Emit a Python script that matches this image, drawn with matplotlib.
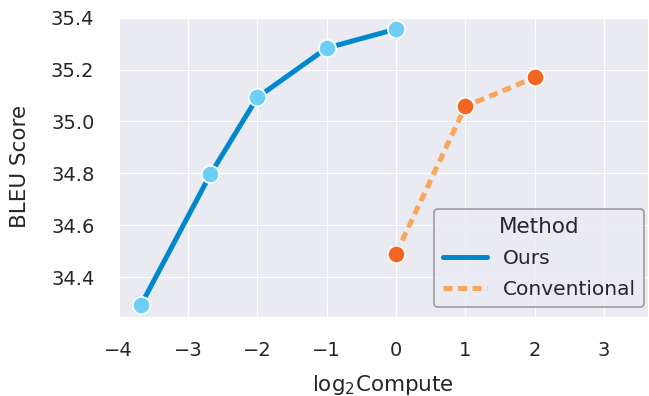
import matplotlib
matplotlib.use("Agg")
import matplotlib.pyplot as plt
import seaborn as sns

sns.set_style("darkgrid")
plt.rcParams['font.family'] = ['DejaVu Sans']

ours_x = [-3.68, -2.68, -2.0, -1.0, 0.0]
ours_y = [34.293, 34.796, 35.093, 35.283, 35.356]
conv_x = [0.0, 1.0, 2.0]
conv_y = [34.491, 35.058, 35.170]
labels = ["Ours", "Conventional"]

fig = plt.figure(figsize=(6.49, 3.96), dpi=100)
ax = fig.add_axes([0.183, 0.2, 0.815, 0.757])

ax.plot(ours_x, ours_y, color="#0088CC", lw=3.6, label=labels[0], solid_capstyle="round", zorder=2)
ax.plot(conv_x, conv_y, color="#F9A65A", lw=3.6, ls=(0, (1.8, 1.1)), label=labels[1], zorder=2)
ax.plot(ours_x, ours_y, ls="none", marker="o", ms=12.5, mfc="#6DCFF6", mec="white", mew=1.2, zorder=3)
ax.plot(conv_x, conv_y, ls="none", marker="o", ms=12.5, mfc="#F26522", mec="white", mew=1.2, zorder=3)

ax.set_xlim(-4, 3.63)
ax.set_xticks([-4, -3, -2, -1, 0, 1, 2, 3])
ax.set_yticks([34.4, 34.6, 34.8, 35.0, 35.2, 35.4])
ax.set_ylim(34.2475, 35.4025)
ax.tick_params(labelsize=14, pad=14, colors="#262626")
ax.set_xlabel(r"log$_2$Compute", fontsize=15.5, labelpad=9, color="#262626")
ax.set_ylabel("BLEU Score", fontsize=15.5, labelpad=15, color="#262626")

leg = ax.legend(title="Method", loc="lower right", bbox_to_anchor=(0.993, 0.033),
                fontsize=14.5, title_fontsize=15.5, frameon=True, handlelength=2.2,
                borderaxespad=0, labelspacing=0.6)
leg.get_frame().set_edgecolor("#888888")
leg.get_frame().set_facecolor("#EAEAF2")
leg.get_frame().set_linewidth(1.2)

fig.savefig("out.png", dpi=100)
